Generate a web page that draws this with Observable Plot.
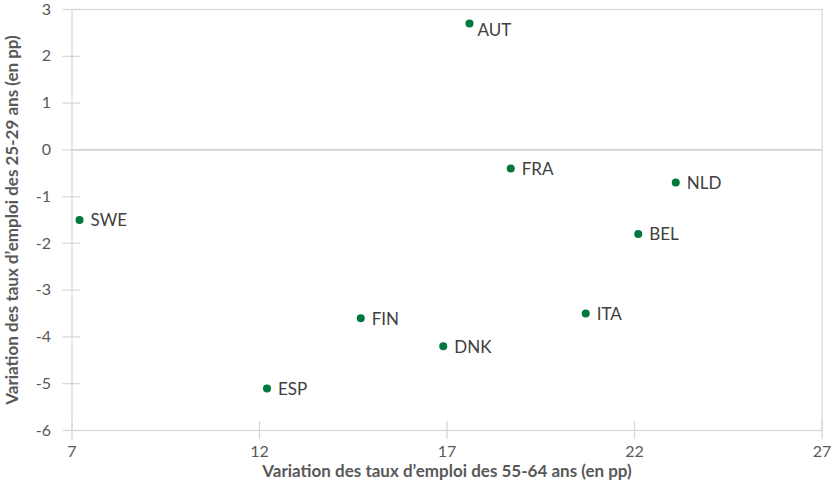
<!DOCTYPE html>
<html>
<head>
<meta charset="utf-8">
<script src="https://cdn.jsdelivr.net/npm/d3@7"></script>
<script src="https://cdn.jsdelivr.net/npm/@observablehq/plot@0.6"></script>
<style>
  html, body { margin: 0; padding: 0; background: #fff; }
  #chart { width: 839px; height: 485px; }
</style>
</head>
<body>
<div id="chart"></div>
<script>
const countries = ["SWE", "ESP", "FIN", "DNK", "AUT", "FRA", "ITA", "BEL", "NLD"];
const emploi5564 = [7.2, 12.2, 14.7, 16.9, 17.6, 18.7, 20.7, 22.1, 23.1];
const emploi2529 = [-1.5, -5.1, -3.6, -4.2, 2.7, -0.4, -3.5, -1.8, -0.7];
const xTicks = [7, 12, 17, 22, 27];
const yTicks = [-6, -5, -4, -3, -2, -1, 0, 1, 2, 3];
const xTitle = "Variation des taux d’emploi des 55-64 ans (en pp)";
const yTitle = "Variation des taux d’emploi des 25-29 ans (en pp)";

const data = countries.map((c, i) => ({country: c, x: emploi5564[i], y: emploi2529[i]}));
const fontFamily = "Lato, 'Open Sans', sans-serif";

const chart = Plot.plot({
  width: 839,
  height: 485,
  marginLeft: 71.5,
  marginRight: 17.5,
  marginTop: 9,
  marginBottom: 55,
  style: {fontFamily, background: "#fff", overflow: "visible"},
  x: {domain: [7, 27]},
  y: {domain: [-6, 3]},
  marks: [
    Plot.frame({stroke: "#d9d9d9", strokeWidth: 1.3}),
    Plot.ruleY([0], {stroke: "#bfbfbf", strokeWidth: 1.3}),
    Plot.axisX({
      ticks: xTicks, tickSize: 18, insetBottom: 9, tickPadding: 6,
      tickFormat: d => String(d),
      stroke: "#d9d9d9", strokeWidth: 1.3,
      fontSize: 16, fill: "#595959",
      label: xTitle, labelAnchor: "center", labelArrow: "none", labelOffset: 46
    }),
    Plot.axisY({
      ticks: yTicks, tickSize: 18, insetLeft: 9, tickPadding: 12,
      tickFormat: d => String(d),
      stroke: "#d9d9d9", strokeWidth: 1.3,
      fontSize: 16, fill: "#595959",
      label: yTitle, labelAnchor: "center", labelArrow: "none", labelOffset: 66
    }),
    Plot.dot(data, {x: "x", y: "y", r: 4, fill: "#00773c", stroke: null}),
    Plot.text(data.filter(d => d.country !== "AUT"), {
      x: "x", y: "y", text: "country", textAnchor: "start",
      dx: 11, dy: 1, fontSize: 17, fill: "#404040"
    }),
    Plot.text(data.filter(d => d.country === "AUT"), {
      x: "x", y: "y", text: "country", textAnchor: "start",
      dx: 8, dy: 7, fontSize: 17, fill: "#404040"
    })
  ]
});

// style axis titles bold
chart.querySelectorAll("g[aria-label='x-axis label'] text, g[aria-label='y-axis label'] text").forEach(t => {
  t.setAttribute("font-weight", "bold");
  t.setAttribute("font-size", "17");
  t.setAttribute("fill", "#595959");
});
document.getElementById("chart").appendChild(chart);
</script>
</body>
</html>
